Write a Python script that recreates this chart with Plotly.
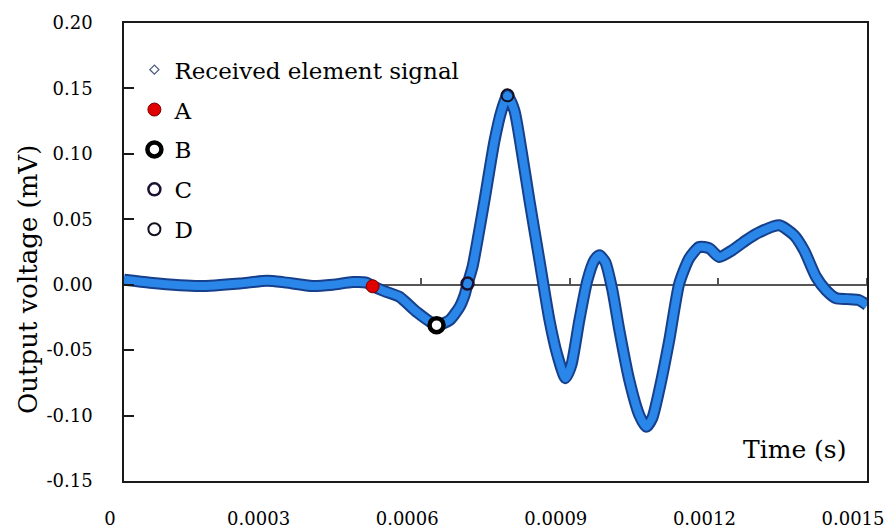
import plotly.graph_objects as go

# ---- data ----
time_s = [0.0, 0.0000524, 0.0001129, 0.0001532, 0.0002339, 0.0002883, 0.0003206,
          0.000381, 0.0004214, 0.0004617, 0.0004899, 0.000502, 0.0005262, 0.0005564,
          0.0005907, 0.000631, 0.0006572, 0.0006774, 0.0006875, 0.0006935, 0.0007036,
          0.0007137, 0.0007278, 0.000748, 0.0007621, 0.0007742, 0.0007883, 0.0008024,
          0.0008185, 0.0008387, 0.0008589, 0.000875, 0.0008911, 0.0009032, 0.0009193,
          0.0009355, 0.0009496, 0.0009597, 0.0009718, 0.0009859, 0.001, 0.0010201,
          0.0010403, 0.0010544, 0.0010665, 0.0010806, 0.0011008, 0.001121, 0.0011411,
          0.0011613, 0.0011814, 0.0012016, 0.0012278, 0.001256, 0.0012822, 0.0013226,
          0.0013528, 0.001373, 0.0013972, 0.0014173, 0.0014375, 0.0014597, 0.0014839,
          0.0015]
voltage_mV = [0.0038, 0.0015, -0.0004, -0.001, 0.001, 0.003, 0.002,
              -0.001, 0.0, 0.002, 0.0015, -0.001, -0.005, -0.0093,
              -0.0208, -0.0309, -0.0271, -0.017, -0.008, 0.0005, 0.0136,
              0.034, 0.0645, 0.110, 0.133, 0.1447, 0.133, 0.103,
              0.0645, 0.0187, -0.027, -0.054, -0.0714, -0.0614, -0.027,
              0.0034, 0.0187, 0.0225, 0.0172, -0.004, -0.0347, -0.073,
              -0.0996, -0.1086, -0.102, -0.0805, -0.0424, 0.001, 0.0202,
              0.0289, 0.0279, 0.0212, 0.0263, 0.034, 0.040, 0.0454,
              0.0378, 0.0263, 0.006, -0.0042, -0.0103, -0.011, -0.0118,
              -0.0156]

point_names = ["A", "B", "C", "D"]
point_time = [0.000502, 0.000631, 0.0006935, 0.0007742]
point_mV = [-0.0012, -0.0309, 0.0009, 0.1447]

x_tick_vals = [0, 0.0003, 0.0006, 0.0009, 0.0012, 0.0015]
x_tick_text = ["0", "0.0003", "0.0006", "0.0009", "0.0012", "0.0015"]
y_tick_vals = [0.20, 0.15, 0.10, 0.05, 0.00, -0.05, -0.10, -0.15]
y_tick_text = ["0.20", "0.15", "0.10", "0.05", "0.00", "-0.05", "-0.10", "-0.15"]

FONT = "DejaVu Serif"

fig = go.Figure()

# legend-only entry for the signal
fig.add_trace(go.Scatter(
    x=[None], y=[None], mode="markers", name="Received element signal",
    marker=dict(symbol="diamond-open", size=7, color="#4a5a80", line=dict(width=1.3)),
    legendgroup="g0", xaxis="x", yaxis="y"))

# signal line: dark edge + bright core
fig.add_trace(go.Scatter(
    x=time_s, y=voltage_mV, mode="lines", showlegend=False,
    line=dict(color="#17408c", width=12, shape="spline", smoothing=0.6),
    xaxis="x2", yaxis="y", hoverinfo="skip"))
fig.add_trace(go.Scatter(
    x=time_s, y=voltage_mV, mode="lines", showlegend=False,
    line=dict(color="#2a86e8", width=8, shape="spline", smoothing=0.6),
    xaxis="x2", yaxis="y"))

marker_styles = [
    dict(symbol="circle", size=13, color="#e00000", line=dict(color="#7a0000", width=1)),
    dict(symbol="circle", size=14, color="white", line=dict(color="black", width=4.5)),
    dict(symbol="circle-open", size=12, color="#1a1030", line=dict(width=2.5)),
    dict(symbol="circle-open", size=12, color="#101020", line=dict(width=2)),
]
for i, nm in enumerate(point_names):
    fig.add_trace(go.Scatter(
        x=[point_time[i]], y=[point_mV[i]], mode="markers", name=nm,
        marker=marker_styles[i], legendgroup=f"g{i+1}",
        xaxis="x2", yaxis="y"))

fig.update_layout(
    width=886, height=530,
    margin=dict(l=124, r=19, t=23, b=49, autoexpand=False),
    paper_bgcolor="white", plot_bgcolor="white",
    font=dict(family=FONT, color="black", size=18),
    showlegend=True,
    legend=dict(x=0.014, y=0.945, xanchor="left", yanchor="top",
                bgcolor="rgba(0,0,0,0)", font=dict(family=FONT, size=23),
                tracegroupgap=7, itemsizing="trace"),
    xaxis=dict(range=[0, 0.0015], tickvals=x_tick_vals, ticktext=x_tick_text,
               ticks="", showgrid=False, zeroline=False, automargin=False,
               showline=True, mirror=True, linecolor="#1a1a1a", linewidth=1.5,
               tickfont=dict(family=FONT, size=18), ticklabelstandoff=21,
               ticklabelshift=-14, ticklabeloverflow="allow"),
    xaxis2=dict(overlaying="x", matches="x", anchor="free",
                position=0.15 / 0.35, side="top", automargin=False,
                tickvals=x_tick_vals, showticklabels=False,
                ticks="outside", ticklen=6, tickcolor="#555555", tickwidth=1.5,
                showline=True, linecolor="#555555", linewidth=1.5,
                showgrid=False, zeroline=False, layer="below traces"),
    yaxis=dict(range=[-0.15, 0.20], tickvals=y_tick_vals, ticktext=y_tick_text,
               ticks="inside", ticklen=10, tickcolor="#1a1a1a", tickwidth=1.5,
               showgrid=False, zeroline=False, automargin=False,
               showline=True, mirror=True, linecolor="#1a1a1a", linewidth=1.5,
               tickfont=dict(family=FONT, size=18), ticklabelstandoff=26),
    annotations=[
        dict(text="Time (s)", xref="paper", yref="paper",
             x=0.9745, y=0.068, xanchor="right", yanchor="middle",
             showarrow=False, font=dict(family=FONT, size=25)),
        dict(text="Output voltage (mV)", xref="paper", yref="paper",
             x=-0.1292, y=0.439, xanchor="center", yanchor="middle", textangle=-90,
             showarrow=False, font=dict(family=FONT, size=26)),
    ],
)

fig.write_html("out.html", config={"displayModeBar": False},
               post_script="document.body.style.margin='0';")
